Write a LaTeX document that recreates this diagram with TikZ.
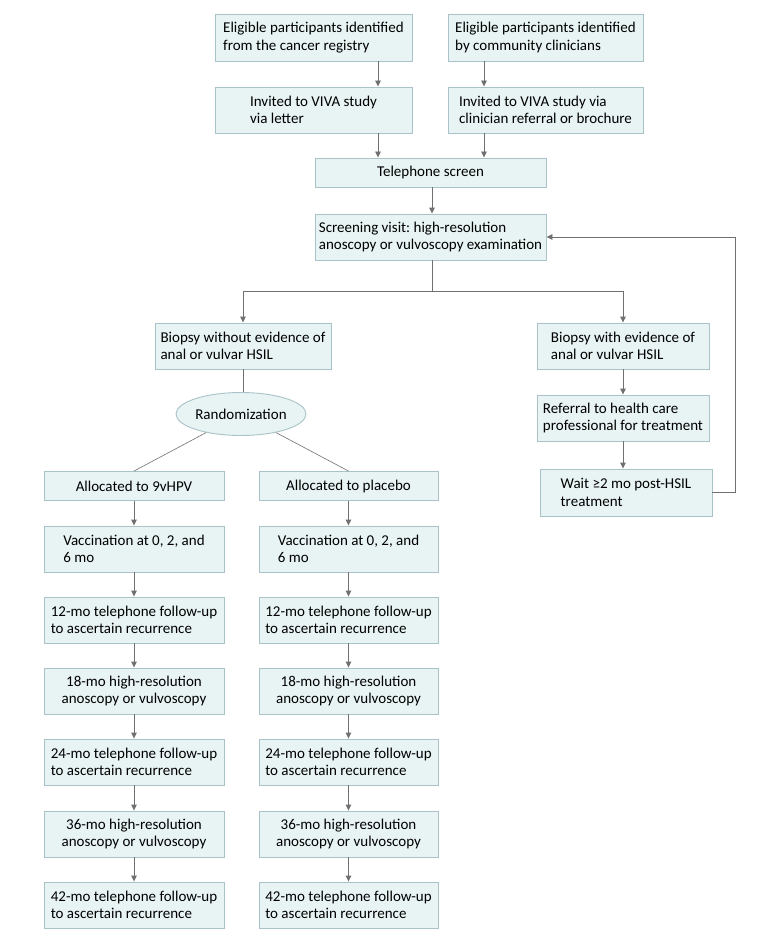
\documentclass[tikz,border=0pt]{standalone}
\usepackage{fontspec}
\setmainfont{Carlito}
\frenchspacing
\usetikzlibrary{arrows.meta,shapes.geometric}
\definecolor{boxfill}{HTML}{E8F3F4}
\definecolor{boxline}{HTML}{A9C3C8}
\definecolor{lnk}{HTML}{707070}
\tikzset{
  x=1pt, y=-1pt,
  box/.style={draw=boxline, fill=boxfill, line width=0.9pt, inner sep=0pt, align=left,
    font=\fontsize{15}{17.5}\selectfont, text=black},
  cbox/.style={box, align=center},
  arr/.style={draw=lnk, line width=0.9pt, -{Triangle[length=6pt,width=5.5pt]}},
  ln/.style={draw=lnk, line width=0.9pt},
  ln2/.style={draw=lnk, line width=0.6pt},
}
\begin{document}
\begin{tikzpicture}
\useasboundingbox (0,0) rectangle (780,944);
\fill[white] (0,0) rectangle (780,944);
% top
\node[box, minimum width=197pt, minimum height=47pt] (A) at (313.5,37.5) {Eligible participants identified\\from the cancer registry};
\node[box, minimum width=195pt, minimum height=47pt] (B) at (545.5,37.5) {Eligible participants identified\\by community clinicians};
\node[box, minimum width=197pt, minimum height=46pt] (C) at (313.5,110) {Invited to VIVA study\\via letter};
\node[box, minimum width=195pt, minimum height=46pt] (D) at (545.5,110) {Invited to VIVA study via\\clinician referral or brochure};
\node[cbox, minimum width=231pt, minimum height=29pt] (T) at (430.5,172.5) {Telephone screen};
\node[box, minimum width=231pt, minimum height=46pt] (S) at (430.5,237) {Screening visit: high-resolution\\anoscopy or vulvoscopy examination};
% middle
\node[box, minimum width=176pt, minimum height=46pt] (BL) at (243,346) {Biopsy without evidence of\\anal or vulvar HSIL};
\node[box, minimum width=172pt, minimum height=46pt] (BR) at (623,346) {Biopsy with evidence of\\anal or vulvar HSIL};
\node[box, minimum width=172pt, minimum height=46pt] (RF) at (623,418) {Referral to health care\\professional for treatment};
\node[box, minimum width=172pt, minimum height=47pt] (W) at (626,492.5) {Wait ≥2 mo post-HSIL\\treatment};
\node[draw=boxline, fill=boxfill, line width=0.9pt, ellipse, inner sep=0pt, minimum width=130pt, minimum height=43pt,
  font=\fontsize{15}{17.5}\selectfont] (R) at (241,414) {Randomization};
\node[cbox, minimum width=180pt, minimum height=29pt] (L0) at (134,486) {Allocated to 9vHPV};
\node[cbox, minimum width=179pt, minimum height=29pt] (P0) at (348.5,486) {Allocated to placebo};
% columns
\foreach \c/\x/\w in {L/134/180, P/348.5/179}{
  \node[box, minimum width=\w pt, minimum height=46pt] (\c1) at (\x,549) {Vaccination at 0, 2, and\\6 mo};
  \node[box, minimum width=\w pt, minimum height=46pt] (\c2) at (\x,620) {12-mo telephone follow-up\\to ascertain recurrence};
  \node[cbox, minimum width=\w pt, minimum height=46pt] (\c3) at (\x,691) {18-mo high-resolution\\anoscopy or vulvoscopy};
  \node[box, minimum width=\w pt, minimum height=46pt] (\c4) at (\x,762) {24-mo telephone follow-up\\to ascertain recurrence};
  \node[cbox, minimum width=\w pt, minimum height=46pt] (\c5) at (\x,834) {36-mo high-resolution\\anoscopy or vulvoscopy};
  \node[box, minimum width=\w pt, minimum height=46pt] (\c6) at (\x,905) {42-mo telephone follow-up\\to ascertain recurrence};
  \foreach \i [evaluate=\i as \j using int(\i+1)] in {0,...,5}{
    \draw[arr] (\c\i.south) -- (\c\j.north);
  }
}
% connectors top
\draw[arr] ([xshift=64.5pt]A.south) -- ([xshift=64.5pt]C.north);
\draw[arr] ([xshift=-61.5pt]B.south) -- ([xshift=-61.5pt]D.north);
\draw[arr] ([xshift=64.5pt]C.south) -- ([xshift=64.5pt]C.south |- T.north);
\draw[arr] ([xshift=-61.5pt]D.south) -- ([xshift=-61.5pt]D.south |- T.north);
\draw[arr] ([xshift=1.5pt]T.south) -- ([xshift=1.5pt]S.north);
\draw[arr] ([xshift=1.5pt]S.south) -- ++(0,31) -| (BL.north);
\draw[arr] ([xshift=1.5pt]S.south) -- ++(0,31) -| (BR.north);
\draw[arr] (BR.south) -- (RF.north);
\draw[arr] (RF.south) -- (RF.south |- W.north);
\draw[arr] (W.east) -- ++(23,0) |- (S.east);
\draw[ln] (BL.south) -- (BL.south |- R.north);
\draw[ln2] (R) -- (L0.north);
\draw[ln2] (R) -- (P0.north);
\end{tikzpicture}
\end{document}
